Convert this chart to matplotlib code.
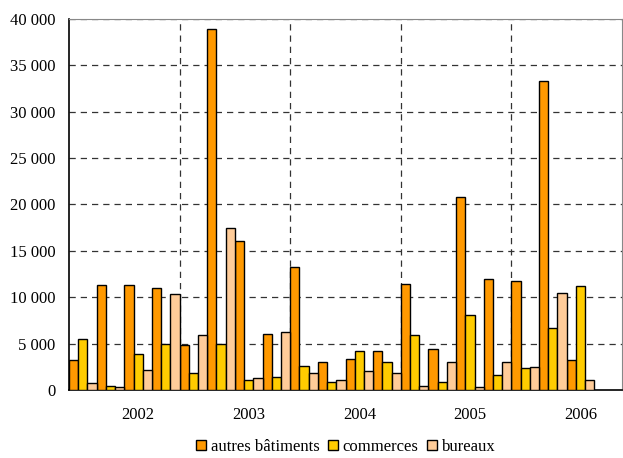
import matplotlib
matplotlib.use("Agg")
import matplotlib.pyplot as plt
from matplotlib.patches import Patch
from matplotlib.ticker import FuncFormatter
import numpy as np

plt.rcParams['font.family'] = ['Liberation Serif', 'DejaVu Serif']

# Quarterly values, 2002 Q1 .. 2006 Q3
years = ["2002", "2003", "2004", "2005", "2006"]
autres_batiments = [3200, 11300, 11300, 11000, 4800, 38900, 16100, 6000, 13300, 3000,
                    3300, 4200, 11400, 4400, 20800, 12000, 11700, 33300, 3200]
commerces = [5500, 450, 3900, 5000, 1800, 5000, 1100, 1400, 2600, 900,
             4200, 3000, 5900, 900, 8100, 1600, 2400, 6700, 11200]
bureaux = [800, 300, 2200, 10300, 5900, 17500, 1300, 6300, 1800, 1100,
           2000, 1800, 400, 3000, 300, 3000, 2500, 10500, 1100]

c_autres = "#FF9900"
c_comm = "#FFCC00"
c_bur = "#FFCC99"

fig = plt.figure(figsize=(6.23, 4.58), dpi=100)
ax = fig.add_axes([0.1108, 0.1485, 0.8876, 0.81])

n_slots = 20
x = np.arange(len(autres_batiments))
w = 1 / 3
bar_kw = dict(width=w, edgecolor="black", linewidth=1.0, zorder=3)
ax.bar(x - w, autres_batiments, color=c_autres, **bar_kw)
ax.bar(x, commerces, color=c_comm, **bar_kw)
ax.bar(x + w, bureaux, color=c_bur, **bar_kw)

ax.set_xlim(-0.5, n_slots - 0.5)
ax.set_ylim(0, 40000)

# horizontal dashed grid
grid_kw = dict(color="#333333", linewidth=0.9, linestyle=(0, (5, 4)), zorder=1)
for v in range(5000, 40001, 5000):
    ax.axhline(v, **grid_kw)
# vertical dashed separators between years
for k in range(1, 5):
    ax.axvline(4 * k - 0.5, **grid_kw)

ax.set_yticks(range(0, 40001, 5000))
ax.yaxis.set_major_formatter(FuncFormatter(lambda v, p: f"{int(v):,}".replace(",", " ")))
ax.set_xticks([2 + 4 * i for i in range(len(years))])
ax.set_xticklabels(years)
ax.tick_params(axis="both", length=0, labelsize=12)
ax.tick_params(axis="y", pad=10)
ax.tick_params(axis="x", pad=12)

for s in ["left", "bottom"]:
    ax.spines[s].set_color("black")
    ax.spines[s].set_linewidth(1.2)
for s in ["top", "right"]:
    ax.spines[s].set_color("#888888")
    ax.spines[s].set_linewidth(0.8)

handles = [Patch(facecolor=c, edgecolor="black", linewidth=1.0) for c in (c_autres, c_comm, c_bur)]
fig.legend(handles, ["autres bâtiments", "commerces", "bureaux"],
           loc="center", bbox_to_anchor=(0.555, 0.024), ncol=3, frameon=False,
           fontsize=12, handlelength=0.6, handleheight=0.6, handletextpad=0.3,
           columnspacing=0.5)

fig.savefig("out.png", dpi=100)
